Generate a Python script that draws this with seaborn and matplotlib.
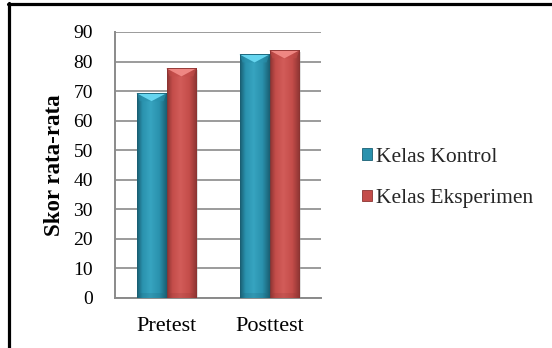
import numpy as np
import pandas as pd
import matplotlib
matplotlib.use("Agg")
import matplotlib.pyplot as plt
import seaborn as sns
from matplotlib.colors import LinearSegmentedColormap
from matplotlib.patches import Polygon, Patch, Rectangle
from matplotlib.lines import Line2D

# Average scores per test and class
tests = ["Pretest", "Posttest"]
groups = ["Kelas Kontrol", "Kelas Eksperimen"]
kontrol = [69.3, 82.4]
eksperimen = [77.7, 83.8]
yticks = [0, 10, 20, 30, 40, 50, 60, 70, 80, 90]
ylabel = "Skor rata-rata"

df = pd.DataFrame({
    "Tes": tests + tests,
    "Kelas": [groups[0]] * len(tests) + [groups[1]] * len(tests),
    "Skor": kontrol + eksperimen,
})

sns.set_theme(style="white")
plt.rcParams["font.family"] = ["Liberation Serif", "DejaVu Serif"]

W, H = 552, 348
fig = plt.figure(figsize=(W / 100, H / 100), dpi=100)
ax_l, ax_r, ax_t, ax_b = 115, 321, 32, 298
ax = fig.add_axes([ax_l / W, 1 - ax_b / H, (ax_r - ax_l) / W, (ax_b - ax_t) / H])

# gel-style colour sets: (dark edge, body, highlight, top bevel)
styles = {
    groups[0]: ("#1A5F73", "#2A92AE", "#37A4C0", "#66D5EF"),
    groups[1]: ("#8C3432", "#C44D4A", "#D25C59", "#EF8783"),
}
palette = {g: styles[g][1] for g in groups}

sns.barplot(data=df, x="Tes", y="Skor", hue="Kelas", hue_order=groups,
            palette=palette, width=0.58, gap=0, saturation=1,
            errorbar=None, legend=False, ax=ax, zorder=3)

ax.set_xlim(-0.5, len(tests) - 0.5)
ax.set_ylim(0, 90)
ax.set_yticks(yticks)
ax.set_xlabel("")
ax.set_ylabel(ylabel, fontsize=16.5, fontweight="bold", labelpad=6, color="black")

ax.yaxis.grid(True, color="#8a8a8a", lw=1.2)
ax.xaxis.grid(False)
ax.set_axisbelow(True)
for s in ["top", "right"]:
    ax.spines[s].set_visible(False)
for s in ["left", "bottom"]:
    ax.spines[s].set_color("#8a8a8a")
    ax.spines[s].set_linewidth(1.4)
ax.tick_params(axis="y", length=0, pad=16, labelsize=14, labelcolor="black")
ax.tick_params(axis="x", length=0, pad=14, labelsize=16, labelcolor="black")

# pixel -> data conversion for decorative bevels
px_x = (ax.get_xlim()[1] - ax.get_xlim()[0]) / (ax_r - ax_l)
px_y = (ax.get_ylim()[1] - ax.get_ylim()[0]) / (ax_b - ax_t)

bar_patches = [p for p in ax.patches if p.get_height() > 0]
colors_by_bar = []
for g in groups:
    for _ in tests:
        colors_by_bar.append(g)

for patch, g in zip(bar_patches, colors_by_bar):
    dark, body, light, top = styles[g]
    x0, w = patch.get_x(), patch.get_width()
    h = patch.get_height()
    patch.set_edgecolor(dark)
    patch.set_linewidth(0.6)
    # soft drop shadow
    ax.add_patch(Rectangle((x0 + 2 * px_x, -1), w, h + 1 - 2 * px_y,
                           facecolor="#9a9a9a", alpha=0.3, lw=0, zorder=2))
    # horizontal gel gradient clipped to the bar
    cmap = LinearSegmentedColormap.from_list(
        "gel", [(0, dark), (0.18, body), (0.45, light), (0.75, body), (1, dark)])
    grad = np.linspace(0, 1, 64)[None, :]
    im = ax.imshow(grad, cmap=cmap, aspect="auto", extent=[x0, x0 + w, 0, h],
                   zorder=3.5, interpolation="bilinear")
    im.set_clip_path(patch)
    # top bevel
    bh = 8 * px_y
    ax.add_patch(Polygon([(x0, h), (x0 + w, h), (x0 + w - 3 * px_x, h - bh),
                          (x0 + 3 * px_x, h - bh)],
                         closed=True, facecolor=body, lw=0, alpha=0.55, zorder=4))
    ax.add_patch(Polygon([(x0, h), (x0 + w, h), (x0 + w / 2, h - bh)],
                         closed=True, facecolor=top, lw=0, zorder=4.1))
    # bottom bevel
    ax.add_patch(Polygon([(x0, 0), (x0 + w, 0), (x0 + w - 4 * px_x, 5 * px_y),
                          (x0 + 4 * px_x, 5 * px_y)],
                         closed=True, facecolor=dark, lw=0, alpha=0.18, zorder=4))
    ax.add_patch(Rectangle((x0, 0), w, h, fill=False, edgecolor=dark,
                           lw=0.6, zorder=4.2))

ax.set_xlim(-0.5, len(tests) - 0.5)
ax.set_ylim(0, 90)

# legend
handles = [Patch(facecolor=styles[g][1], edgecolor=styles[g][0], lw=0.6, label=g)
           for g in groups]
fig.legend(handles=handles, loc="center left",
           bbox_to_anchor=(362 / W, 1 - 178 / H), frameon=False,
           fontsize=15.5, handlelength=0.45, handleheight=0.45,
           handletextpad=0.2, labelspacing=1.05, borderpad=0, borderaxespad=0)

# frame lines along the left and top edges
fig.add_artist(Line2D([8.5 / W, 8.5 / W], [0, 1 - 3 / H], transform=fig.transFigure,
                      color="black", lw=2.3))
fig.add_artist(Line2D([7.5 / W, 1], [1 - 4 / H, 1 - 4 / H], transform=fig.transFigure,
                      color="black", lw=2.3))

fig.savefig("out.png", dpi=100, facecolor="white")
